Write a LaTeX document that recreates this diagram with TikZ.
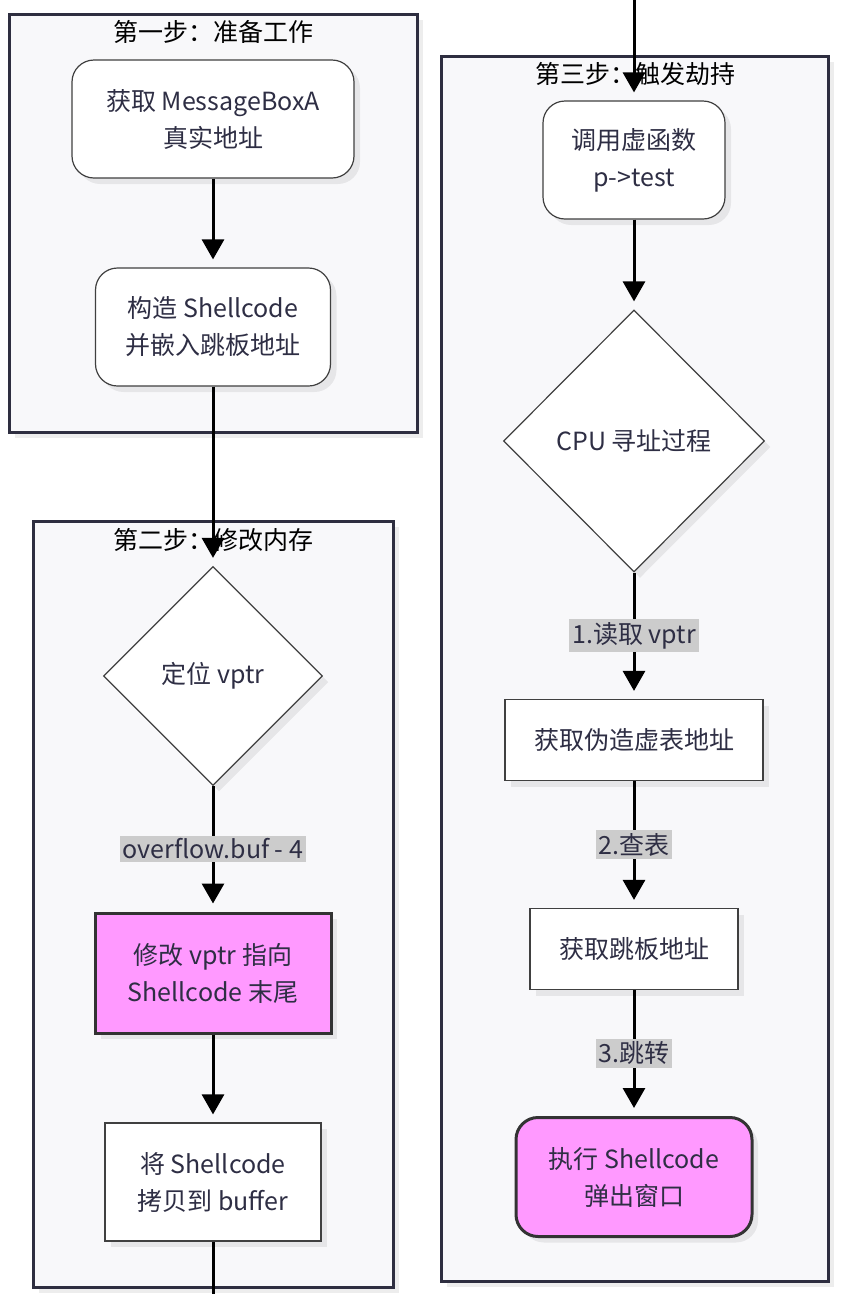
\documentclass[tikz,border=0pt]{standalone}
\usepackage{fontspec}
\setmainfont{Noto Sans CJK SC}
\usepackage{tikz}
\usetikzlibrary{arrows.meta,shapes.geometric,shadows}
\definecolor{inkcol}{HTML}{2E2E44}
\definecolor{clusterfill}{HTML}{F8F8FA}
\definecolor{clusterline}{HTML}{2E2E40}
\definecolor{hotpink}{HTML}{FF99FF}
\definecolor{labelgray}{HTML}{CCCCCC}
\tikzstyle{boxshadow} = [drop shadow={shadow xshift=6pt, shadow yshift=-6pt, fill=black, opacity=0.07}]
\tikzstyle{cluster} = [rectangle, draw=clusterline, fill=clusterfill, line width=3pt, boxshadow]
\tikzstyle{clustertitle} = [text=black, inner sep=0pt]
\tikzstyle{terminator} = [rectangle, draw=black!75, fill=white, rounded corners=22pt, line width=1.2pt, align=center, text=inkcol, boxshadow]
\tikzstyle{process} = [rectangle, draw=black!75, fill=white, line width=1.2pt, align=center, text=inkcol, boxshadow]
\tikzstyle{decision} = [diamond, aspect=1, draw=black!75, fill=white, line width=1.2pt, inner sep=0pt, text=inkcol, boxshadow]
\tikzstyle{highlight} = [fill=hotpink, draw=black!80, line width=3pt]
\tikzstyle{connector} = [line width=3pt, -{Triangle[width=22pt,length=20pt]}, shorten >=8pt]
\tikzstyle{edgelabel} = [fill=labelgray, text=inkcol, inner xsep=3pt, inner ysep=3pt]

\begin{document}
\begin{tikzpicture}[x=1pt, y=-1pt, node distance=100pt, font=\fontsize{25}{37}\selectfont]
        \useasboundingbox (0,0) rectangle (844,1294);
        % the three steps
        \node (step1) [cluster, minimum width=408pt, minimum height=418pt] at (213,223) {};
        \node (step2) [cluster, minimum width=360pt, minimum height=766pt] at (213,904) {};
        \node (step3) [cluster, minimum width=387pt, minimum height=1225pt] at (634.5,668.5) {};
        \node (title1) [clustertitle] at (213,32) {第一步：准备工作};
        \node (title2) [clustertitle] at (213,540) {第二步：修改内存};
        \node (title3) [clustertitle] at (635,74) {第三步：触发劫持};
        % left column
        \node (getaddr) [terminator, minimum width=282pt, minimum height=118pt] at (213,119) {获取 MessageBoxA\\真实地址};
        \node (buildsc) [terminator, below of = getaddr, yshift = -108pt, minimum width=235pt, minimum height=118pt] {构造 Shellcode\\并嵌入跳板地址};
        \node (findvptr) [decision, below of = buildsc, yshift = -249pt, minimum width=219pt, minimum height=219pt] {定位 vptr};
        \node (patchvptr) [process, highlight, below of = findvptr, yshift = -197pt, minimum width=236pt, minimum height=120pt] {修改 vptr 指向\\Shellcode 末尾};
        \node (copysc) [process, below of = patchvptr, yshift = -109pt, minimum width=216pt, minimum height=118pt] {将 Shellcode\\拷贝到 buffer};
        % right column
        \node (callvf) [terminator, minimum width=182pt, minimum height=118pt] at (634,160) {调用虚函数\\p->test};
        \node (cpuaddr) [decision, below of = callvf, yshift = -181pt, minimum width=261pt, minimum height=262pt] {CPU 寻址过程};
        \node (fakevt) [process, below of = cpuaddr, yshift = -199pt, minimum width=258pt, minimum height=81pt] {获取伪造虚表地址};
        \node (trampoline) [process, below of = fakevt, yshift = -109pt, minimum width=208pt, minimum height=81pt] {获取跳板地址};
        \node (runsc) [terminator, highlight, below of = trampoline, yshift = -128pt, minimum width=236pt, minimum height=119pt] {执行 Shellcode\\弹出窗口};
        \coordinate (wrapout) at (213,1300);
        \coordinate (wrapin) at (634,-6);
        % connectors
        \draw [connector] (getaddr) -- (buildsc);
        \draw [connector] (buildsc) -- (findvptr);
        \draw [connector] (findvptr) -- node[edgelabel] {overflow.buf - 4} (patchvptr);
        \draw [connector] (patchvptr) -- (copysc);
        \draw [line width=3pt] (copysc) -- (wrapout);
        \draw [connector] (wrapin) -- (callvf);
        \draw [connector] (callvf) -- (cpuaddr);
        \draw [connector] (cpuaddr) -- node[edgelabel] {1.读取 vptr} (fakevt);
        \draw [connector] (fakevt) -- node[edgelabel] {2.查表} (trampoline);
        \draw [connector] (trampoline) -- node[edgelabel] {3.跳转} (runsc);
    \end{tikzpicture}
\end{document}
